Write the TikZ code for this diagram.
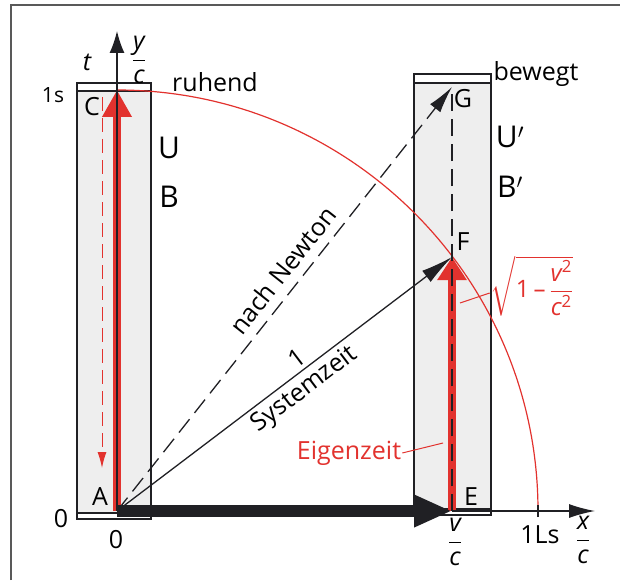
\documentclass[tikz,border=0pt]{standalone}
\usepackage{amsmath}
\usepackage{fontspec}
\setmainfont{Open Sans}
\usetikzlibrary{positioning,calc,arrows.meta}
\definecolor{signalred}{RGB}{226,50,46}
\definecolor{rodgray}{RGB}{238,238,238}
\definecolor{inkblack}{RGB}{32,32,36}
\newcommand{\VarRatio}[2]{$\dfrac{\text{\itshape #1}}{\text{\itshape #2}}$}
\newcommand{\RootTerm}{$\sqrt{\text{1\,--\,}\dfrac{\text{\itshape v}^{\text{2}}}{\text{\itshape c}^{\text{2}}}}$}
\newcommand{\NewtonLabel}{nach Newton}
\newcommand{\SystemLabel}{Systemzeit}
\def\LightRadius{421}
\tikzset{
  lbl/.style={inner sep=1pt,font=\fontsize{25}{28}\selectfont},
  biglbl/.style={inner sep=1pt,font=\fontsize{30}{33}\selectfont},
  rod/.style={draw=inkblack,fill=rodgray,line width=1.2pt},
  strip/.style={draw=inkblack,fill=white,line width=1.2pt},
  axis/.style={draw=inkblack,line width=1.3pt,-{Latex[length=22pt,width=15pt]}},
  signal/.style={draw=inkblack,line width=1.3pt,-{Latex[length=32pt,width=14pt]}},
  newton/.style={draw=inkblack,line width=1.3pt,dash pattern=on 17pt off 8pt,
    -{Latex[length=27pt,width=13pt]}},
  redbar/.style={draw=signalred,line width=8pt},
  leader/.style={draw=signalred,line width=1pt}
}

\begin{document}
\begin{tikzpicture}[x=1pt,y=-1pt]
  \useasboundingbox (0,0) rectangle (620,580);
  \draw[gray!70!black,line width=1.2pt] (11,580) -- (11,5) -- (620,5);

  \coordinate (A) at (117,511);
  \coordinate (C) at (117,90);
  \coordinate (E) at (452,511);
  \coordinate (F) at (452,257);
  \coordinate (G) at (452,87);
  \coordinate (Ls) at (538,511);
  \coordinate (xend) at (595,511);
  \coordinate (yend) at (117,31);

  % the two rods, at rest and moving
  \draw[rod] (77,83) rectangle (151,519);
  \draw[strip] (77,83) rectangle (151,91);
  \draw[strip] (77,513) rectangle (151,519);
  \draw[rod] (414,74) rectangle (491,515);
  \draw[strip] (414,74) rectangle (491,83);
  \draw[strip] (414,509) rectangle (491,515);

  \draw[signalred,line width=1.2pt] (C) arc[start angle=-90,end angle=0,radius=\LightRadius];

  \draw[redbar,-{Triangle[length=27pt,width=28pt]}] (A) -- (C);
  \draw[redbar,-{Triangle[length=23pt,width=28pt]}] (E) -- (F);
  \coordinate (ctop) at (102,97);
  \coordinate (cbot) at (102,468);
  \draw[signalred,line width=1pt,dash pattern=on 14pt off 7pt,
    -{Latex[length=16pt,width=9pt]}] (ctop) -- (cbot);
  \draw[inkblack,line width=1.2pt,dash pattern=on 17pt off 8pt] (E) -- (G);

  \draw[newton] (A) -- node[lbl,sloped,above=8pt,pos=0.54] (newtonlbl) {\NewtonLabel} (G);
  \draw[signal] (A) -- node[lbl,sloped,above=3pt,pos=0.56] (one) {1}
    node[lbl,sloped,below=3pt,pos=0.53] (syslbl) {\SystemLabel} (F);

  \draw[axis] (A) -- (yend);
  \draw[inkblack,line width=12pt,-{Triangle[length=38pt,width=30pt]}] (A) -- (E);
  \draw[axis,-{Latex[length=26pt,width=14pt]}] (E) -- (xend);
  \draw[inkblack,line width=1.3pt] ([yshift=-6pt]Ls) -- ([yshift=6pt]Ls);

  \node[lbl] (tlbl) at (87,62) {\itshape t};
  \node[lbl] (ylbl) at (139,60) {\VarRatio{y}{c}};
  \node[lbl,font=\fontsize{21}{24}\selectfont] (onesec) at (53,95) {1s};
  \node[lbl] (Clbl) at (92,107) {C};
  \node[lbl] (rest) at (215,82) {ruhend};
  \node[biglbl] (Ulbl) at (169,148) {U};
  \node[biglbl] (Blbl) at (169,197) {B};
  \node[lbl] (moving) at (536,74) {bewegt};
  \node[lbl] (Glbl) at (463,99) {G};
  \node[biglbl] (Uplbl) at (510,137) {U$'$};
  \node[biglbl] (Bplbl) at (510,187) {B$'$};
  \node[lbl] (Flbl) at (463,242) {F};
  \node[lbl,text=signalred,font=\fontsize{24}{27}\selectfont] (root) at (532,286) {\RootTerm};
  \coordinate (rootpt) at (460,303);
  \draw[leader] (rootpt) -- ([yshift=-7pt]root.west);
  \node[lbl,text=signalred] (eigen) at (349,453) {Eigenzeit};
  \coordinate (eigenpt) at (443,443);
  \draw[leader] (eigen.east) -- (eigenpt);
  \node[lbl] (Albl) at (100,497) {A};
  \node[lbl] (Elbl) at (471,497) {E};
  \node[lbl] (zeroy) at (61,519) {0};
  \node[lbl] (zerox) at (116,540) {0};
  \node[lbl] (vlbl) at (455,542) {\VarRatio{v}{c}};
  \node[lbl] (lightsec) at (540,535) {1Ls};
  \node[lbl] (xlbl) at (583,540) {\VarRatio{x}{c}};
\end{tikzpicture}
\end{document}
